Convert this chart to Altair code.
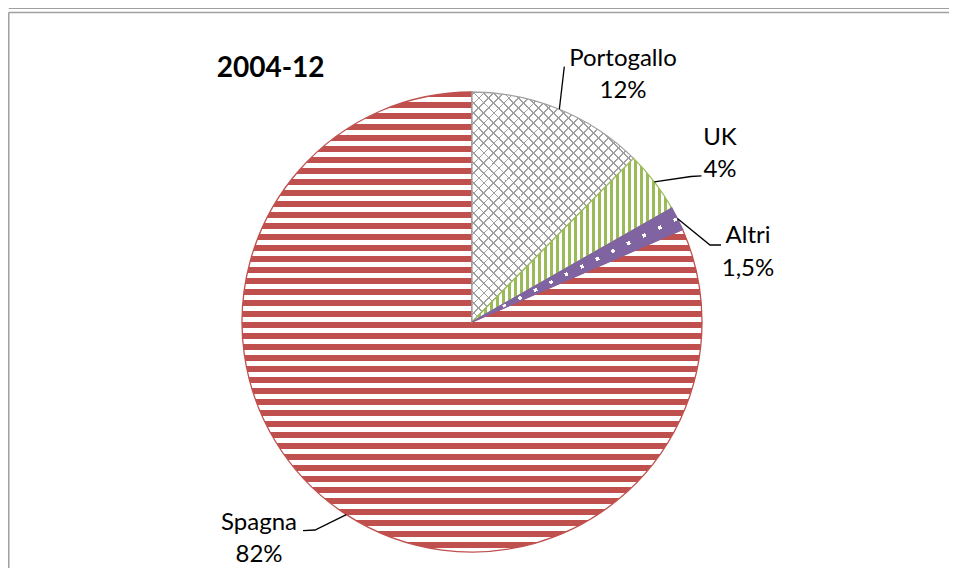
import math
import altair as alt
import pandas as pd

# ---------------- data ----------------
categories = ["Portogallo", "UK", "Altri", "Spagna"]
shares = [12.4, 4.35, 1.65, 81.6]
pct_labels = ["12%", "4%", "1,5%", "82%"]
chart_title = "2004-12"

# ---------------- style / layout ----------------
RED, GREEN, PURPLE, GRAY = "#C0504D", "#9BBB59", "#8064A2", "#A0A0A0"
WHITE = "#FFFFFF"
CLEAR = "rgba(255,255,255,0)"
FONT = "Lato"

OFF = 8                      # page margin
W, H = 941, 560
CX, CY, R = 472 - OFF, 322 - OFF, 230

label_cx = [623, 720, 748, 259]          # page coords
label_base = [65.5, 145, 243.3, 530]
line_gap = 32.3
leader_elbow = [(564.3, 66.7), (691, 176.5), (710, 245), (315, 530)]
leader_end = [(564.3, 66.7), (701.5, 175.8), (721, 245), (303, 530.7)]

# ---------------- geometry helpers ----------------
total = sum(shares)
angles = []
cum = 0.0
for s in shares:
    a0 = 2 * math.pi * cum / total
    cum += s
    a1 = 2 * math.pi * cum / total
    angles.append((a0, a1))


def arc_bbox(a0, a1):
    pts = [(CX, CY)]
    for a in (a0, a1):
        pts.append((CX + R * math.sin(a), CY - R * math.cos(a)))
    for k in range(5):
        a = k * math.pi / 2
        if a0 - 1e-6 <= a <= a1 + 1e-6:
            pts.append((CX + R * math.sin(a), CY - R * math.cos(a)))
    xs = [p[0] for p in pts]
    ys = [p[1] for p in pts]
    return min(xs), min(ys), max(xs) - min(xs), max(ys) - min(ys)


def periodic(phase, period, width, color, lo, hi):
    out = []
    k0 = math.floor((lo - phase) / period) - 1
    k1 = math.ceil((hi - phase) / period) + 1
    for k in range(k0, k1 + 1):
        a = phase + k * period
        out.append((a, a + width, color))
    return out


def gradient(bbox, ax, ay, bands_fn, bg):
    bx, by, bw, bh = bbox
    corners = [(bx, by), (bx + bw, by), (bx, by + bh), (bx + bw, by + bh)]
    ss = [ax * x + ay * y for x, y in corners]
    s0, s1 = min(ss), max(ss)
    L = s1 - s0
    c = L / (ax * ax * bw * bw + ay * ay * bh * bh)
    vx, vy = c * ax * bw, c * ay * bh
    p1x = (s0 * ax - bx) / bw
    p1y = (s0 * ay - by) / bh
    stops = [(0.0, bg)]
    for a, b, col in sorted(bands_fn(s0, s1)):
        a, b = max(a, s0), min(b, s1)
        if b <= a:
            continue
        oa, ob = (a - s0) / L, (b - s0) / L
        stops += [(oa, bg), (oa, col), (ob, col), (ob, bg)]
    stops.append((1.0, bg))
    return alt.LinearGradient(
        gradient="linear",
        x1=round(p1x, 6), y1=round(p1y, 6),
        x2=round(p1x + vx, 6), y2=round(p1y + vy, 6),
        stops=[alt.GradientStop(color=col, offset=round(o, 6)) for o, col in stops],
    )


# ---------------- table for the library ----------------
df = pd.DataFrame({"cat": categories, "share": shares, "order": list(range(len(categories)))})

base = (
    alt.Chart(df)
    .transform_window(cum="sum(share)", sort=[alt.SortField("order")])
    .transform_joinaggregate(total="sum(share)")
    .transform_calculate(t0="(datum.cum - datum.share) / datum.total", t1="datum.cum / datum.total")
)
theta_enc = dict(
    x=alt.value(CX),
    y=alt.value(CY),
    theta=alt.Theta("t0:Q", scale=alt.Scale(domain=[0, 1], range=[0, 2 * math.pi])),
    theta2="t1:Q",
)


def slice_layer(name, fill):
    return base.transform_filter(alt.datum.cat == name).mark_arc(
        outerRadius=R, innerRadius=0, fill=fill
    ).encode(**theta_enc)


def outline_layer(name, color):
    return base.transform_filter(alt.datum.cat == name).mark_arc(
        outerRadius=R, innerRadius=0, fill=WHITE, fillOpacity=0, stroke=color, strokeWidth=1.3
    ).encode(**theta_enc)


idx = {c: i for i, c in enumerate(categories)}
layers = []

# Spagna: red horizontal stripes
bb = arc_bbox(*angles[idx["Spagna"]])
g = gradient(bb, 0, 1, lambda lo, hi: periodic(83, 11, 5.7, RED, lo, hi), WHITE)
layers += [slice_layer("Spagna", g), outline_layer("Spagna", RED)]

# Portogallo: gray lattice on white
bb = arc_bbox(*angles[idx["Portogallo"]])
r2 = 1 / math.sqrt(2)
per = 10 * r2
layers.append(slice_layer("Portogallo", WHITE))
layers.append(slice_layer("Portogallo", gradient(bb, r2, -r2, lambda lo, hi: periodic(0, per, 1.3, GRAY, lo, hi), CLEAR)))
layers.append(slice_layer("Portogallo", gradient(bb, r2, r2, lambda lo, hi: periodic(0, per, 1.3, GRAY, lo, hi), CLEAR)))
layers.append(outline_layer("Portogallo", GRAY))

# UK: green vertical stripes
bb = arc_bbox(*angles[idx["UK"]])
g = gradient(bb, 1, 0, lambda lo, hi: periodic(CX, 6, 3.2, GREEN, lo, hi), WHITE)
layers += [slice_layer("UK", g), outline_layer("UK", GREEN)]

# Altri: purple with a row of white dots
a0, a1 = angles[idx["Altri"]]
bb = arc_bbox(a0, a1)
am = (a0 + a1) / 2
nx, ny = math.cos(am), math.sin(am)
ux, uy = math.sin(am), -math.cos(am)
sc = nx * CX + ny * CY
uc = ux * CX + uy * CY
dot_r = [175.4 + 17.4 * k for k in range(-9, 4) if 25 < 175.4 + 17.4 * k < 229]
layers.append(slice_layer("Altri", PURPLE))
layers.append(slice_layer("Altri", gradient(bb, nx, ny, lambda lo, hi: [(sc - 1.75, sc + 1.75, WHITE)], CLEAR)))
layers.append(slice_layer("Altri", gradient(bb, ux, uy, lambda lo, hi: [(uc + r - 1.75, uc + r + 1.75, CLEAR) for r in dot_r], PURPLE)))
layers.append(outline_layer("Altri", PURPLE))

# ---------------- leader lines ----------------
rows = []
for i, c in enumerate(categories):
    a0, a1 = angles[i]
    am = (a0 + a1) / 2
    pts = [(CX + R * math.sin(am), CY - R * math.cos(am)),
           (leader_elbow[i][0] - OFF, leader_elbow[i][1] - OFF),
           (leader_end[i][0] - OFF, leader_end[i][1] - OFF)]
    for j, (px, py) in enumerate(pts):
        rows.append({"cat": c, "seq": j, "px": px, "py": py})
lead = alt.Chart(pd.DataFrame(rows)).mark_line(color="black", strokeWidth=1.3).encode(
    x=alt.X("px:Q", scale=None, axis=None),
    y=alt.Y("py:Q", scale=None, axis=None),
    detail="cat:N",
    order="seq:Q",
)

# ---------------- labels ----------------
lab = pd.DataFrame({
    "name": categories,
    "pct": pct_labels,
    "lx": [x - OFF for x in label_cx],
    "ly1": [y - OFF for y in label_base],
    "ly2": [y - OFF + line_gap for y in label_base],
})
txt_name = alt.Chart(lab).mark_text(font=FONT, fontSize=24, align="center", baseline="alphabetic", color="black").encode(
    x=alt.X("lx:Q", scale=None, axis=None), y=alt.Y("ly1:Q", scale=None, axis=None), text="name:N")
txt_pct = alt.Chart(lab).mark_text(font=FONT, fontSize=24, align="center", baseline="alphabetic", color="black").encode(
    x=alt.X("lx:Q", scale=None, axis=None), y=alt.Y("ly2:Q", scale=None, axis=None), text="pct:N")
title = alt.Chart(pd.DataFrame({"t": [chart_title]})).mark_text(
    font=FONT, fontSize=28, fontWeight="bold", align="left", baseline="alphabetic", color="black"
).encode(x=alt.value(216.7 - OFF), y=alt.value(76.7 - OFF), text="t:N")

# ---------------- frame ----------------
fr = alt.Chart(pd.DataFrame({"a": [0]}))
frame = [
    fr.mark_rule(color=GRAY, strokeWidth=1.5).encode(x=alt.value(0.75), x2=alt.value(W), y=alt.value(0.2)),
    fr.mark_rule(color=GRAY, strokeWidth=1.5).encode(x=alt.value(0.75), x2=alt.value(W), y=alt.value(4.6)),
    fr.mark_rule(color=GRAY, strokeWidth=1.5).encode(x=alt.value(0.75), y=alt.value(4.6), y2=alt.value(H)),
]

chart = alt.layer(*frame, *layers, lead, txt_name, txt_pct, title).properties(
    width=W, height=H, padding=0, autosize="none", background="white"
).configure_view(stroke=None)

chart.save("out.html", embed_options={"renderer": "svg", "actions": False})
